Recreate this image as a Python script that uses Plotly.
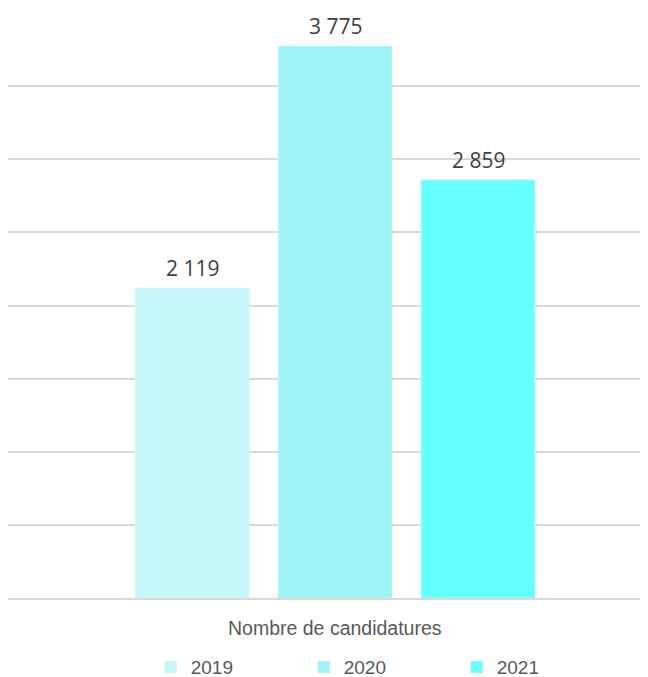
import plotly.graph_objects as go

category = ["Nombre de candidatures"]
years = ["2019", "2020", "2021"]
values = [2119, 3775, 2859]
colors = ["#C5F7F9", "#9EF3F6", "#66FFFF"]

fig = go.Figure()
for yr, v, c in zip(years, values, colors):
    fig.add_trace(go.Bar(x=category, y=[v], name=yr, marker_color=c))

# value labels above each bar
shifts = [-143, 0, 143]
for v, dx in zip(values, shifts):
    fig.add_annotation(
        x=category[0], y=v, xref="x", yref="y", xshift=dx, yshift=4,
        text=f"{v:,}".replace(",", " "), showarrow=False, yanchor="bottom",
        font=dict(family="Open Sans", size=21, color="#404040"),
    )

fig.add_annotation(
    text="Nombre de candidatures", xref="paper", yref="paper",
    x=0.511, y=-0.051, yanchor="middle", showarrow=False,
    font=dict(family="Liberation Sans", size=19.5, color="#595959"),
)

# page body has an 8px margin, so the figure is 8px smaller than the window
fig.update_layout(
    width=640, height=669,
    margin=dict(l=0, r=0, t=5, b=79, autoexpand=False),
    plot_bgcolor="white", paper_bgcolor="white",
    barmode="group", bargap=0.33, bargroupgap=0.203,
    showlegend=True,
    legend=dict(
        orientation="h", x=0.223, xanchor="left", y=-0.118, yanchor="middle",
        entrywidth=108,
        font=dict(family="Liberation Sans", size=19, color="#595959"),
        bgcolor="rgba(0,0,0,0)",
    ),
)
fig.update_xaxes(range=[-0.511, 0.489], showticklabels=False, showline=True,
                 linecolor="#D9D9D9", linewidth=1.5, showgrid=False, zeroline=False)
fig.update_yaxes(range=[0, 4000], dtick=500, showticklabels=False, showgrid=True,
                 gridcolor="#D9D9D9", gridwidth=1.5, zeroline=False)

fig.write_html("out.html")
